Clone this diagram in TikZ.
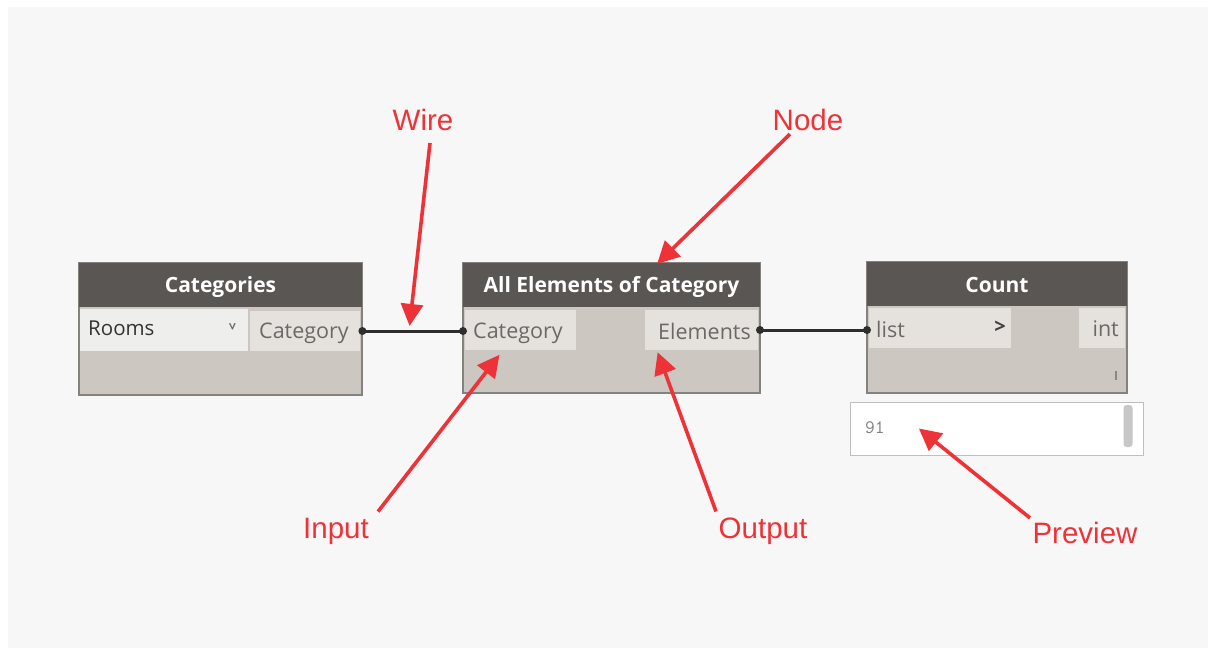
\documentclass[tikz,border=0pt]{standalone}
\usepackage{fontspec}
\setmainfont{Open Sans}
\newfontfamily\labelfont{Liberation Sans}
\usetikzlibrary{arrows.meta}
\definecolor{bgc}{HTML}{F7F7F7}
\definecolor{hdr}{HTML}{5A5653}
\definecolor{bodyc}{HTML}{CCC7C1}
\definecolor{portc}{HTML}{E5E2DD}
\definecolor{dropc}{HTML}{EEEEEC}
\definecolor{edgec}{HTML}{85817D}
\definecolor{porttext}{HTML}{6B6866}
\definecolor{redc}{HTML}{EE3338}
\definecolor{wirec}{HTML}{2E2E2E}
\tikzset{
  nodebody/.style={draw=edgec, line width=1.2pt, fill=bodyc, inner sep=0pt},
  title/.style={text=white, font=\fontsize{21}{24}\selectfont\bfseries, inner sep=0pt},
  port/.style={fill=portc, text=porttext, font=\fontsize{21.5}{24}\selectfont, inner sep=0pt, minimum height=40pt, text depth=0pt},
  redlabel/.style={text=redc, font=\labelfont\fontsize{29.5}{32}\selectfont, inner sep=0pt},
  redarrow/.style={draw=redc, line width=3.6pt, -{Triangle[length=22pt,width=22pt]}, shorten >=-4pt},
  wire/.style={draw=wirec, line width=3pt},
  plug/.style={fill=wirec, circle, inner sep=0pt, minimum size=8pt},
}
\begin{document}
\begin{tikzpicture}[x=1pt,y=-1pt]
\useasboundingbox (0,0) rectangle (1208,648);
\fill[white] (0,0) rectangle (1208,648);
\fill[bgc] (8,7) rectangle (1208,648);

% Categories node
\node[nodebody, minimum width=283pt, minimum height=132pt] (cat) at (220.5,329) {};
\fill[hdr] (79,263) rectangle (362,307);
\node[title] (catT) at (220.5,287) {Categories};
\node[fill=dropc, minimum width=168pt, minimum height=42pt, inner sep=0pt, anchor=north west] (catDrop) at (80,309) {};
\node[font=\fontsize{20.5}{23}\selectfont, text=black!80, anchor=west, inner sep=0pt] (catRooms) at (88,328) {Rooms};
\node[text=porttext, font=\fontsize{13}{14}\selectfont\bfseries, inner sep=0pt] (catChev) at (233,327) {\rotatebox{90}{\textless}};
\node[port, minimum width=110pt, anchor=north west] (catOut) at (250,311) {};
\node[port, fill=none, anchor=west] (catOutT) at (259,331) {Category};

% All Elements of Category node
\node[nodebody, minimum width=297pt, minimum height=130pt] (ae) at (611.5,328) {};
\fill[hdr] (463,263) rectangle (760,307);
\node[title] (aeT) at (611.5,287) {All Elements of Category};
\node[port, minimum width=111pt, anchor=north west] (aeIn) at (465,310) {};
\node[port, fill=none, anchor=west] (aeInT) at (473,331) {Category};
\node[port, minimum width=113pt, anchor=north east] (aeOut) at (758,310) {};
\node[port, fill=none, anchor=east] (aeOutT) at (751,331) {Elements};

% Count node
\node[nodebody, minimum width=260pt, minimum height=131pt] (cnt) at (997,327.5) {};
\fill[hdr] (867,262) rectangle (1127,306);
\node[title] (cntT) at (997,285) {Count};
\node[port, minimum width=142pt, anchor=north west] (cntIn) at (869,308) {};
\node[port, fill=none, anchor=west] (cntInT) at (876,329) {list};
\node[text=black!75, font=\fontsize{20}{22}\selectfont\bfseries, inner sep=0pt] (cntArr) at (1000,327) {\textgreater};
\node[port, minimum width=46pt, anchor=north east] (cntOut) at (1125,308) {};
\node[port, fill=none, anchor=east] (cntOutT) at (1119,329) {int};
\node[fill=porttext!80, minimum width=1.5pt, minimum height=9pt, inner sep=0pt] (cntMark) at (1116,375) {};

% Preview bubble
\node[draw=black!25, line width=1pt, fill=white, minimum width=293pt, minimum height=53pt, inner sep=0pt] (prev) at (996.5,428.5) {};
\node[text=black!50, font=\ttfamily\fontsize{19}{21}\selectfont, anchor=west, inner sep=0pt] (prevT) at (865,428) {91};
\node[fill=black!22, rounded corners=3pt, minimum width=9pt, minimum height=42pt, inner sep=0pt] (prevBar) at (1128,426) {};

% Wires
\draw[wire] (catOut.east |- 0,331) coordinate (w1a) -- (aeIn.west |- 0,331) coordinate (w1b);
\node[plug] at ([xshift=2pt]w1a) {};
\node[plug] at ([xshift=-2pt]w1b) {};
\draw[wire] (aeOut.east |- 0,330) coordinate (w2a) -- (cntIn.west |- 0,330) coordinate (w2b);
\node[plug] at ([xshift=2pt]w2a) {};
\node[plug] at ([xshift=-2pt]w2b) {};

% Red labels
\node[redlabel] (lWire) at (423,120) {Wire};
\node[redlabel] (lNode) at (808,120) {Node};
\node[redlabel] (lInput) at (336,531) {Input};
\node[redlabel] (lOutput) at (763,531) {Output};
\node[redlabel] (lPrev) at (1085,533) {Preview};

\coordinate (tWire) at (410,322);
\coordinate (tNode) at (660,261);
\coordinate (tInput) at (497,358);
\coordinate (tOutput) at (659,356);
\coordinate (tPrev) at (922,431);

\draw[redarrow] ([xshift=7pt,yshift=-12pt]lWire.south) -- (tWire);
\draw[redarrow] ([xshift=-18pt,yshift=-3pt]lNode.south) -- (tNode);
\draw[redarrow] ([xshift=42pt,yshift=6pt]lInput.north) -- (tInput);
\draw[redarrow] ([xshift=-47pt,yshift=6pt]lOutput.north) -- (tOutput);
\draw[redarrow] ([xshift=-55pt,yshift=4pt]lPrev.north) -- (tPrev);
\end{tikzpicture}
\end{document}
